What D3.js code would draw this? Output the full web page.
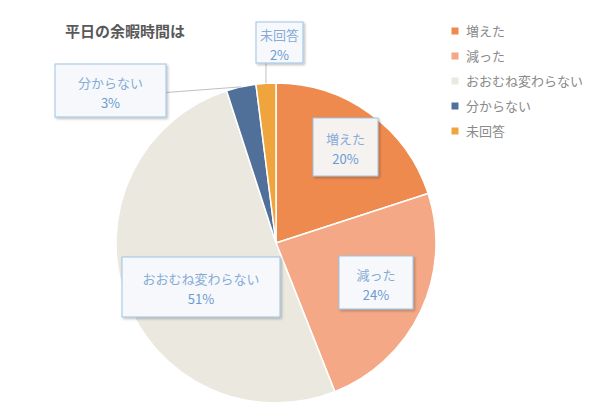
<!DOCTYPE html>
<html>
<head>
<meta charset="utf-8">
<script src="https://cdn.jsdelivr.net/npm/d3@7"></script>
<style>
  body { margin: 0; background: #fff; }
  text { font-family: "Noto Sans CJK JP", "Noto Sans", sans-serif; }
</style>
</head>
<body>
<svg id="chart" width="600" height="414"></svg>
<script>
// data
var categories = ["増えた", "減った", "おおむね変わらない", "分からない", "未回答"];
var values = [20, 24, 51, 3, 2];
var colors = ["#ef8a4f", "#f4a886", "#ebe9df", "#50709a", "#f0a43e"];
var title = "平日の余暇時間は";

// label boxes (placement of callouts)
var boxes = [
  {x: 313, y: 118, w: 65, h: 58},
  {x: 339, y: 256, w: 74, h: 53},
  {x: 122, y: 257, w: 158, h: 60},
  {x: 55, y: 64, w: 111, h: 53},
  {x: 256, y: 22, w: 47, h: 41}
];

var svg = d3.select("#chart");
var cx = 276, cy = 243, r = 160;

var defs = svg.append("defs");
var f = defs.append("filter").attr("id", "shadow").attr("x", "-10%").attr("y", "-10%").attr("width", "130%").attr("height", "140%");
f.append("feDropShadow").attr("dx", 1.5).attr("dy", 1.5).attr("stdDeviation", 1.2).attr("flood-color", "#000").attr("flood-opacity", 0.25);

svg.append("text")
   .attr("x", 65).attr("y", 37)
   .attr("font-size", 15).attr("font-weight", "bold")
   .attr("fill", "#595959")
   .text(title);

var pie = d3.pie().sort(null).value(d => d);
var arcs = pie(values);
var arc = d3.arc().innerRadius(0).outerRadius(r);

var grp_pie = svg.append("g").attr("transform", "translate(" + cx + "," + cy + ")");
grp_pie.selectAll("path").data(arcs).enter().append("path")
   .attr("d", arc)
   .attr("fill", (d, i) => colors[i])
   .attr("stroke", "#fff").attr("stroke-width", 1.5);

// leader lines for the two small slices
var outer = d3.arc().innerRadius(r).outerRadius(r);
[3, 4].forEach(function(i) {
   var p = outer.centroid(arcs[i]);
   var b = boxes[i];
   var ex = i == 4 ? cx + p[0] : b.x + b.w;
   var ey = i == 4 ? b.y + b.h : b.y + b.h / 2 + 2;
   svg.append("line")
      .attr("x1", cx + p[0]).attr("y1", cy + p[1])
      .attr("x2", ex).attr("y2", ey)
      .attr("stroke", "#bfbfbf").attr("stroke-width", 1);
});

// callouts
var grp_labels = svg.append("g");
boxes.forEach(function(b, i) {
   var g = grp_labels.append("g");
   g.append("rect")
      .attr("x", b.x).attr("y", b.y).attr("width", b.w).attr("height", b.h)
      .attr("fill", i == 0 ? "#f6f2f0" : "#f6f8fb")
      .attr("stroke", "#9dc3e6").attr("stroke-width", 1)
      .attr("filter", "url(#shadow)");
   g.append("text")
      .attr("x", b.x + b.w / 2).attr("y", b.y + b.h / 2 - 3)
      .attr("text-anchor", "middle").attr("font-size", 13)
      .attr("fill", "#86acd8")
      .text(categories[i]);
   g.append("text")
      .attr("x", b.x + b.w / 2).attr("y", b.y + b.h / 2 + 17)
      .attr("text-anchor", "middle").attr("font-size", 13)
      .attr("fill", "#6b9bd2")
      .text(values[i] + "%");
});

// legend
var legend = svg.append("g").attr("transform", "translate(455, 31)");
var item = legend.selectAll("g").data(categories).enter().append("g")
   .attr("transform", (d, i) => "translate(0," + i * 25 + ")");
item.append("rect")
   .attr("x", -3.5).attr("y", -3.5).attr("width", 7).attr("height", 7)
   .attr("fill", (d, i) => colors[i]);
item.append("text")
   .attr("x", 11).attr("y", 5)
   .attr("font-size", 13).attr("fill", "#8a8a8a")
   .text(d => d);
</script>
</body>
</html>
